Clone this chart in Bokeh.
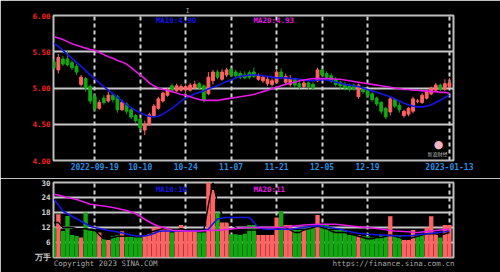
from bokeh.plotting import figure
from bokeh.layouts import column
from bokeh.models import ColumnDataSource, FixedTicker, Label, Range1d, LinearAxis
from bokeh.embed import file_html
from bokeh.resources import INLINE

# ---------------- data ----------------
tick_idx = [9, 19, 29, 39, 49, 59, 69, 87]
tick_labels = ["2022-09-19", "10-10", "10-24", "11-07", "11-21", "12-05", "12-19", "2023-01-13"]

opens = [5.36, 5.25, 5.40, 5.40, 5.35, 5.30, 5.05, 5.13, 5.02, 4.88,
         4.72, 4.86, 4.82, 4.90, 4.88, 4.70, 4.78, 4.70, 4.62, 4.57,
         4.42, 4.50, 4.62, 4.72, 4.82, 4.90, 5.03, 4.96, 4.97, 4.98,
         4.97, 5.00, 5.06, 5.03, 4.92, 5.10, 5.22, 5.12, 5.18, 5.26,
         5.22, 5.20, 5.18, 5.21, 5.22, 5.12, 5.10, 5.06, 5.05, 5.08,
         5.22, 5.08, 5.05, 5.12, 5.06, 5.02, 5.07, 5.05, 5.10, 5.25,
         5.20, 5.17, 5.12, 5.08, 5.05, 5.03, 5.04, 4.88, 5.00, 4.96,
         4.92, 4.86, 4.80, 4.72, 4.67, 4.84, 4.76, 4.62, 4.64, 4.68,
         4.82, 4.80, 4.86, 4.92, 4.97, 5.04, 4.98, 5.02]
highs = [5.40, 5.47, 5.44, 5.52, 5.38, 5.33, 5.18, 5.15, 5.05, 4.92,
         4.84, 4.90, 4.95, 4.92, 4.90, 4.84, 4.80, 4.72, 4.64, 4.59,
         4.55, 4.66, 4.78, 4.88, 4.95, 5.00, 5.06, 5.06, 5.05, 5.05,
         5.07, 5.10, 5.08, 5.05, 5.22, 5.25, 5.25, 5.26, 5.28, 5.28,
         5.25, 5.23, 5.23, 5.24, 5.28, 5.20, 5.18, 5.15, 5.13, 5.25,
         5.27, 5.20, 5.18, 5.14, 5.10, 5.10, 5.09, 5.08, 5.28, 5.27,
         5.23, 5.20, 5.15, 5.10, 5.08, 5.06, 5.06, 5.06, 5.02, 4.98,
         4.94, 4.88, 4.82, 4.74, 4.88, 4.86, 4.80, 4.70, 4.74, 4.88,
         4.85, 4.93, 4.98, 5.02, 5.07, 5.06, 5.12, 5.14]
lows = [5.25, 5.20, 5.30, 5.30, 5.25, 5.18, 5.02, 4.95, 4.78, 4.68,
        4.70, 4.77, 4.80, 4.80, 4.66, 4.68, 4.64, 4.57, 4.52, 4.41,
        4.35, 4.48, 4.60, 4.70, 4.80, 4.88, 4.94, 4.95, 4.95, 4.93,
        4.95, 4.98, 4.97, 4.80, 4.90, 5.05, 5.12, 5.10, 5.15, 5.15,
        5.14, 5.12, 5.12, 5.12, 5.14, 5.10, 5.07, 5.03, 5.02, 5.06,
        5.12, 5.05, 5.02, 5.00, 4.98, 5.00, 4.98, 4.97, 5.08, 5.15,
        5.12, 5.07, 5.02, 4.98, 4.97, 4.95, 4.96, 4.85, 4.92, 4.86,
        4.81, 4.75, 4.64, 4.57, 4.62, 4.72, 4.66, 4.59, 4.61, 4.65,
        4.79, 4.78, 4.84, 4.90, 4.95, 4.96, 4.96, 5.00]
closes = [5.28, 5.42, 5.33, 5.32, 5.28, 5.22, 5.15, 5.00, 4.82, 4.72,
          4.80, 4.80, 4.90, 4.84, 4.70, 4.80, 4.68, 4.60, 4.55, 4.45,
          4.50, 4.63, 4.75, 4.85, 4.93, 4.98, 4.97, 5.03, 5.02, 5.02,
          5.04, 5.05, 5.00, 4.83, 5.15, 5.22, 5.15, 5.22, 5.25, 5.18,
          5.17, 5.15, 5.14, 5.15, 5.16, 5.17, 5.15, 5.12, 5.10, 5.22,
          5.15, 5.16, 5.13, 5.04, 5.02, 5.07, 5.02, 5.00, 5.25, 5.18,
          5.15, 5.10, 5.05, 5.03, 5.00, 4.98, 4.99, 5.04, 4.95, 4.90,
          4.84, 4.78, 4.68, 4.60, 4.85, 4.75, 4.70, 4.68, 4.72, 4.85,
          4.82, 4.90, 4.95, 5.00, 5.04, 4.98, 5.06, 5.07]

ma10 = [5.62, 5.57, 5.52, 5.46, 5.41, 5.35, 5.30, 5.24, 5.18, 5.13,
        5.07, 5.02, 4.97, 4.92, 4.87, 4.82, 4.77, 4.73, 4.69, 4.66,
        4.63, 4.61, 4.60, 4.61, 4.64, 4.68, 4.72, 4.77, 4.82, 4.86,
        4.89, 4.92, 4.94, 4.96, 4.99, 5.01, 5.03, 5.06, 5.09, 5.11,
        5.14, 5.16, 5.17, 5.18, 5.18, 5.18, 5.17, 5.16, 5.15, 5.14,
        5.14, 5.14, 5.13, 5.13, 5.12, 5.11, 5.10, 5.10, 5.11, 5.11,
        5.11, 5.10, 5.08, 5.07, 5.05, 5.04, 5.03, 5.02, 5.00, 4.98,
        4.96, 4.94, 4.92, 4.90, 4.88, 4.85, 4.82, 4.79, 4.77, 4.75,
        4.74, 4.74, 4.75, 4.77, 4.80, 4.83, 4.87, 4.90]
ma20 = [5.71, 5.69, 5.67, 5.64, 5.61, 5.59, 5.57, 5.55, 5.53, 5.52,
        5.49, 5.46, 5.43, 5.41, 5.38, 5.36, 5.33, 5.28, 5.23, 5.18,
        5.13, 5.07, 5.03, 5.00, 4.98, 4.97, 4.95, 4.93, 4.91, 4.90,
        4.88, 4.86, 4.84, 4.83, 4.83, 4.83, 4.83, 4.84, 4.85, 4.86,
        4.87, 4.88, 4.89, 4.90, 4.91, 4.93, 4.95, 4.97, 4.99, 5.01,
        5.03, 5.05, 5.07, 5.08, 5.10, 5.11, 5.12, 5.13, 5.13, 5.13,
        5.13, 5.13, 5.12, 5.12, 5.11, 5.10, 5.09, 5.08, 5.07, 5.06,
        5.05, 5.04, 5.03, 5.02, 5.01, 5.00, 4.99, 4.98, 4.98, 4.97,
        4.97, 4.96, 4.96, 4.95, 4.95, 4.94, 4.94, 4.93]

volume = [12, 17.3, 10.6, 16.6, 9, 8.6, 8, 18, 11, 10.5,
          10, 7.5, 7, 8.5, 9, 10.5, 8.5, 8.5, 8, 8,
          9, 9.5, 12, 12, 12, 12, 10, 11, 13, 11,
          10.5, 10.5, 10, 10, 33, 27, 18, 14, 14, 9.3,
          9.3, 9, 9.5, 13, 13, 9, 9, 9, 9, 16,
          18.5, 13, 13, 11, 11, 11, 12, 12, 17, 13,
          13, 11, 11, 11, 11, 9, 9, 9, 8.5, 8.5,
          8, 8, 9, 8.5, 16.5, 9, 9, 7, 7, 11,
          9, 9, 12, 16.5, 10, 8, 13, 13]
vol_up = [0, 1, 0, 0, 0, 0, 1, 0, 0, 0,
          1, 0, 1, 0, 0, 1, 0, 0, 0, 0,
          1, 1, 1, 1, 1, 1, 0, 1, 1, 1,
          1, 1, 0, 0, 1, 1, 0, 1, 1, 0,
          0, 0, 0, 0, 0, 1, 1, 1, 1, 1,
          0, 1, 1, 0, 0, 1, 0, 0, 1, 0,
          0, 0, 0, 0, 0, 0, 0, 1, 0, 0,
          0, 0, 0, 0, 1, 0, 0, 1, 1, 1,
          0, 0, 1, 1, 1, 0, 1, 1]
vma5 = [14, 14, 12, 12, 12, 11.5, 11.5, 11.5, 11, 11,
        9, 7.5, 7.5, 8, 8.5, 8.5, 8.5, 8.5, 8.5, 8.5,
        9, 10, 10.5, 11, 11.5, 11.5, 11, 11, 11.5, 11,
        11, 11, 11, 11, 21, 30, 22, 17, 15, 13,
        12, 11, 11, 11, 11, 11, 11, 11, 11, 11.5,
        12, 12, 11, 10, 10, 11, 11.5, 12, 12.5, 12,
        11.5, 10.5, 10, 10, 10, 9.5, 9, 8.5, 8, 7.5,
        7.5, 8, 8, 8.5, 9, 8.5, 8, 7.5, 7.5, 8,
        8.5, 9, 9.5, 9.5, 9.5, 9, 9.5, 10]
vma10 = [23.3, 21, 18.5, 17.5, 16.5, 15.5, 14.5, 13.5, 12.5, 12,
         11.6, 11.2, 10.8, 10.6, 10.2, 9.8, 9.4, 9, 8.7, 8.6,
         8.6, 9, 9.6, 10.4, 10.6, 10.6, 10.6, 10.6, 10.6, 10.6,
         10.6, 10.6, 10.6, 10.8, 11.3, 13.5, 15.4, 15.8, 16, 16,
         16, 16, 16, 16, 14, 12, 11.5, 11.3, 11.3, 11.3,
         11.3, 11.3, 11.3, 11.5, 11.8, 12, 12.3, 12.6, 12.7, 12.5,
         12.2, 11.9, 11.6, 11.3, 10.8, 10.4, 10, 9.7, 9.5, 9.3,
         9.2, 9.1, 9, 8.9, 8.7, 8.7, 8.7, 8.7, 8.7, 8.8,
         9.1, 9.3, 9.5, 9.7, 9.9, 10.1, 10.3, 10.6]
vma20 = [25.3, 25, 24.5, 24, 23.6, 23.2, 22.6, 22, 21.3, 21.1,
         20.8, 20.6, 20.3, 20, 19.6, 19.2, 18.8, 18.2, 17.5, 16.5,
         15.3, 14.2, 13.3, 12.5, 12, 11.5, 10.9, 10.8, 10.7, 10.6,
         10.6, 10.6, 10.6, 10.7, 10.8, 10.9, 10.9, 11, 11.2, 11.4,
         11.6, 11.8, 11.9, 12, 12, 12, 12, 12, 12, 12,
         12, 12.2, 12.4, 12.6, 12.8, 13, 13.1, 13.2, 13.3, 13.3,
         13.3, 13.3, 13.3, 13.1, 12.9, 12.7, 12.5, 12.3, 12.1, 12,
         11.8, 11.6, 11.4, 11.1, 10.8, 10.6, 10.5, 10.4, 10.3, 10.1,
         10, 10.2, 10.4, 10.6, 10.8, 11, 11.2, 11.3]

ma_labels = ["MA10:4.90", "MA20:4.93"]
vma_labels = ["MA10:10", "MA20:11"]
footer_labels = ["Copyright 2023 SINA.COM", "https://finance.sina.com.cn"]

# ---------------- styles ----------------
RED = "#ff6262"
GREEN = "#12a812"
BLUE = "#1515e6"
MAG = "#e619e6"
GRID = "#c8c8c8"
FONT = "DejaVu Sans Mono"

n = len(closes)
idx = list(range(n))
c_col = [RED if c >= o else GREEN for o, c in zip(opens, closes)]
src = ColumnDataSource(dict(
    x=idx, o=opens, h=highs, l=lows, c=closes,
    top=[max(o, c) for o, c in zip(opens, closes)],
    bot=[min(o, c) for o, c in zip(opens, closes)],
    col=c_col, ma10=ma10, ma20=ma20,
))
vsrc = ColumnDataSource(dict(
    x=idx, v=volume, col=[RED if u else GREEN for u in vol_up],
    m5=vma5, m10=vma10, m20=vma20,
))

XR = Range1d(-0.066, 87.9)


def bare_axis(ax, color, size="7.5px", bold=True, standoff=3):
    ax.axis_line_color = None
    ax.major_tick_line_color = None
    ax.minor_tick_line_color = None
    ax.major_tick_out = 0
    ax.major_tick_in = 0
    ax.minor_tick_out = 0
    ax.major_label_text_color = color
    ax.major_label_text_font = FONT
    ax.major_label_text_font_style = "bold" if bold else "normal"
    ax.major_label_text_font_size = size
    ax.major_label_standoff = standoff


def style(p, yticks, ylabel_color, grid_y):
    p.background_fill_color = "black"
    p.border_fill_color = "black"
    p.outline_line_color = "#bdbdbd"
    p.outline_line_width = 2
    p.xgrid.ticker = FixedTicker(ticks=tick_idx)
    p.xgrid.grid_line_color = "#d0d0d0"
    p.xgrid.grid_line_dash = "4 3"
    p.xgrid.grid_line_width = 2
    p.ygrid.ticker = FixedTicker(ticks=grid_y)
    p.ygrid.grid_line_color = GRID
    p.ygrid.grid_line_width = 2
    ax = p.yaxis[0]
    ax.ticker = FixedTicker(ticks=yticks)
    bare_axis(ax, ylabel_color)


# ---------------- price panel ----------------
p1 = figure(width=500, height=178, x_range=XR, y_range=Range1d(4.0, 6.0),
            output_backend="svg", toolbar_location=None,
            min_border_left=53, min_border_right=47, min_border_top=15, min_border_bottom=18)
style(p1, [4.0, 4.5, 5.0, 5.5, 6.0], "#ff2020", [4.5, 5.0, 5.5])
p1.yaxis[0].major_label_overrides = {4.0: "4.00", 4.5: "4.50", 5.0: "5.00", 5.5: "5.50", 6.0: "6.00"}
xa = p1.xaxis[0]
xa.ticker = FixedTicker(ticks=tick_idx)
xa.major_label_overrides = {t: s for t, s in zip(tick_idx, tick_labels)}
bare_axis(xa, "#2b8fe0", size="8px", standoff=2)

# small marker above the frame
top_ax = LinearAxis(ticker=FixedTicker(ticks=[29.4]), major_label_overrides={29.4: "I"})
bare_axis(top_ax, "#9a9a9a", size="7px", bold=False, standoff=1)
p1.add_layout(top_ax, "above")

p1.segment(x0="x", y0="l", x1="x", y1="h", color="col", line_width=1, source=src)
p1.vbar(x="x", width=0.62, top="top", bottom="bot", fill_color="col", line_color="col",
        line_width=1, source=src)
p1.line(x="x", y="ma10", color=BLUE, line_width=1.6, source=src)
p1.line(x="x", y="ma20", color=MAG, line_width=1.6, source=src)

p1.add_layout(Label(x=22.4, y=5.93, text=ma_labels[0], text_color=BLUE, text_font=FONT,
                    text_font_style="bold", text_font_size="7.5px", text_baseline="middle"))
p1.add_layout(Label(x=43.9, y=5.93, text=ma_labels[1], text_color=MAG, text_font=FONT,
                    text_font_style="bold", text_font_size="7.5px", text_baseline="middle"))
p1.add_layout(Label(x=84.6, y=4.22, text="●", text_color="#f2b3c0", text_font="DejaVu Sans",
                    text_font_size="11px", text_baseline="middle", text_align="center"))
p1.add_layout(Label(x=84.4, y=4.1, text="新浪财经", text_color="#bdbdbd", text_font="Noto Sans CJK SC",
                    text_font_size="5px", text_baseline="middle", text_align="center"))

# ---------------- volume panel ----------------
p2 = figure(width=500, height=94, x_range=XR, y_range=Range1d(0, 30),
            output_backend="svg", toolbar_location=None,
            min_border_left=53, min_border_right=47, min_border_top=4, min_border_bottom=15)
style(p2, [0, 6, 12, 18, 24, 30], "#d2d2d2", [6, 12, 18, 24])
p2.yaxis[0].major_label_overrides = {0: "万手"}
fx = p2.xaxis[0]
fx.ticker = FixedTicker(ticks=[11.4, 74.7])
fx.major_label_overrides = {11.4: footer_labels[0], 74.7: footer_labels[1]}
bare_axis(fx, "#a8a8a8", size="7.5px", bold=False, standoff=1)

p2.vbar(x="x", width=0.95, top="v", bottom=0, fill_color="col", line_color=None, source=vsrc)
p2.line(x="x", y="m5", color="black", line_width=1.4, source=vsrc)
p2.line(x="x", y="m10", color=BLUE, line_width=1.6, source=vsrc)
p2.line(x="x", y="m20", color=MAG, line_width=1.6, source=vsrc)

p2.add_layout(Label(x=22.4, y=27.3, text=vma_labels[0], text_color=BLUE, text_font=FONT,
                    text_font_style="bold", text_font_size="7.5px", text_baseline="middle"))
p2.add_layout(Label(x=43.9, y=27.3, text=vma_labels[1], text_color=MAG, text_font=FONT,
                    text_font_style="bold", text_font_size="7.5px", text_baseline="middle"))

layout = column(p1, p2, spacing=0)
open("out.html", "w").write(file_html(layout, INLINE))
